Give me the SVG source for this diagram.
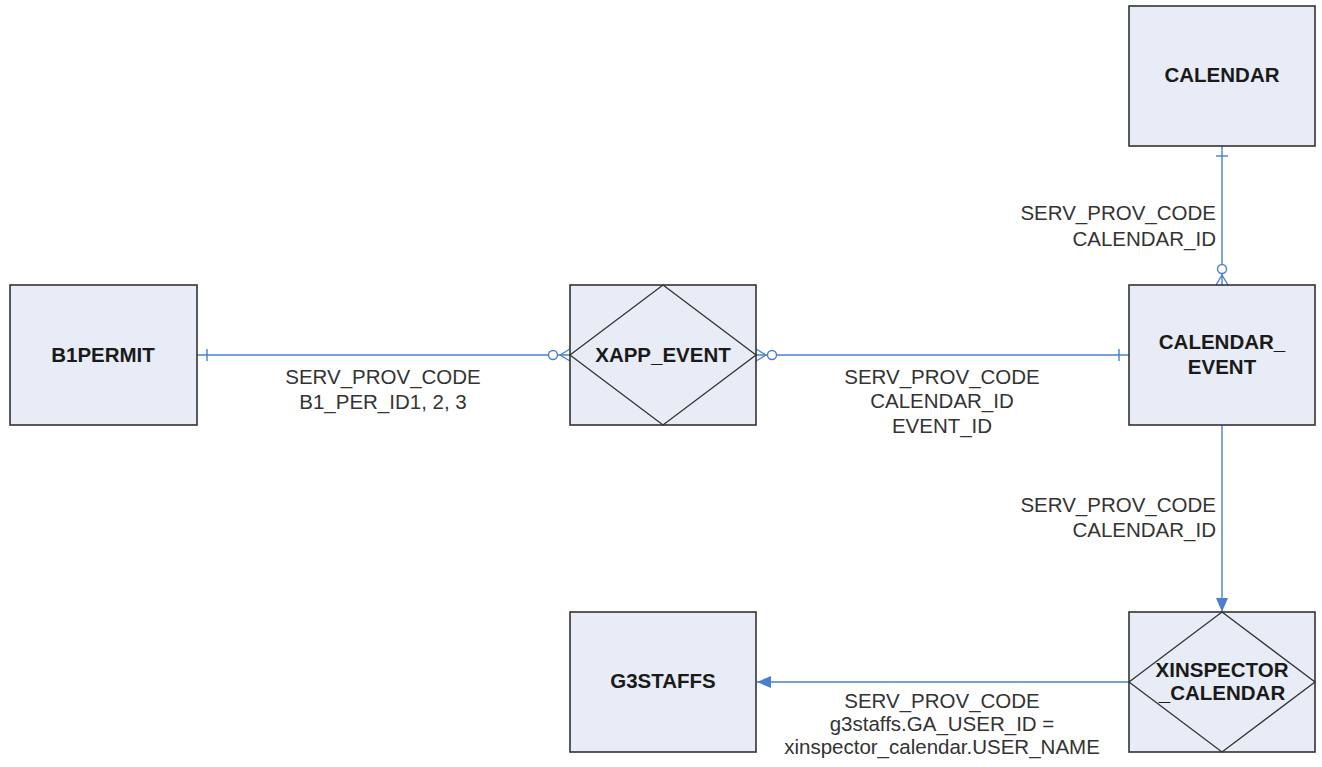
<svg xmlns="http://www.w3.org/2000/svg" width="1322" height="767" viewBox="0 0 1322 767">
  <style>
    .box { fill: #e8ecf6; stroke: #333; stroke-width: 1.6; }
    .dia { fill: none; stroke: #333; stroke-width: 1.3; }
    .name { font-family: "Liberation Sans", Arial, sans-serif; font-weight: bold; font-size: 20.5px; fill: #1a1a1a; text-anchor: middle; }
    .lbl { font-family: "Liberation Sans", Arial, sans-serif; font-size: 20.5px; fill: #333; }
    .ln { fill: none; stroke: #4a7fd0; stroke-width: 1.4; }
    .ring { fill: #fff; stroke: #4a7fd0; stroke-width: 1.4; }
  </style>
  <defs>
    <marker id="arrow" viewBox="0 0 14 12" refX="14" refY="6" markerWidth="14" markerHeight="12" markerUnits="userSpaceOnUse" orient="auto">
      <path d="M0,0 L14,6 L0,12 Z" fill="#4a7fd0"/>
    </marker>
  </defs>
  <rect width="1322" height="767" fill="#fff"/>

  <!-- relationships -->
  <g id="connectors">
    <!-- B1PERMIT 1 : N XAPP_EVENT -->
    <line class="ln" x1="197" y1="355" x2="570" y2="355"/>
    <line class="ln" x1="207" y1="349" x2="207" y2="361"/>
    <path class="ln" d="M560,355 L570,349 M560,355 L570,361"/>
    <circle class="ring" cx="553" cy="355" r="4.5"/>

    <!-- XAPP_EVENT N : 1 CALENDAR_EVENT -->
    <line class="ln" x1="756" y1="355" x2="1129" y2="355"/>
    <path class="ln" d="M766,355 L756,349 M766,355 L756,361"/>
    <circle class="ring" cx="772" cy="355" r="4.5"/>
    <line class="ln" x1="1119" y1="349" x2="1119" y2="361"/>

    <!-- CALENDAR 1 : N CALENDAR_EVENT -->
    <line class="ln" x1="1222" y1="146" x2="1222" y2="285"/>
    <line class="ln" x1="1216" y1="156" x2="1228" y2="156"/>
    <path class="ln" d="M1222,275 L1216,285 M1222,275 L1228,285"/>
    <circle class="ring" cx="1222" cy="269" r="4.5"/>

    <!-- CALENDAR_EVENT to XINSPECTOR_CALENDAR -->
    <line class="ln" x1="1222" y1="425" x2="1222" y2="612" marker-end="url(#arrow)"/>

    <!-- XINSPECTOR_CALENDAR to G3STAFFS -->
    <line class="ln" x1="1129" y1="682" x2="757" y2="682" marker-end="url(#arrow)"/>
  </g>

  <!-- relationship labels -->
  <g id="labels">
    <text class="lbl" x="383" y="384" text-anchor="middle">SERV_PROV_CODE</text>
    <text class="lbl" x="383" y="409" text-anchor="middle">B1_PER_ID1, 2, 3</text>

    <text class="lbl" x="942" y="384" text-anchor="middle">SERV_PROV_CODE</text>
    <text class="lbl" x="942" y="408" text-anchor="middle">CALENDAR_ID</text>
    <text class="lbl" x="942" y="433" text-anchor="middle">EVENT_ID</text>

    <text class="lbl" x="1216" y="220" text-anchor="end">SERV_PROV_CODE</text>
    <text class="lbl" x="1216" y="246" text-anchor="end">CALENDAR_ID</text>

    <text class="lbl" x="1216" y="512" text-anchor="end">SERV_PROV_CODE</text>
    <text class="lbl" x="1216" y="537" text-anchor="end">CALENDAR_ID</text>

    <text class="lbl" x="942" y="708" text-anchor="middle">SERV_PROV_CODE</text>
    <text class="lbl" x="942" y="731" text-anchor="middle">g3staffs.GA_USER_ID =</text>
    <text class="lbl" x="942" y="754" text-anchor="middle">xinspector_calendar.USER_NAME</text>
  </g>

  <!-- entities -->
  <g id="b1permit">
    <rect class="box" x="10" y="285" width="187" height="140"/>
    <text class="name" x="103" y="362">B1PERMIT</text>
  </g>

  <g id="xapp_event">
    <rect class="box" x="570" y="285" width="186" height="140"/>
    <path class="dia" d="M663,285 L756,355 L663,425 L570,355 Z"/>
    <text class="name" x="663" y="362">XAPP_EVENT</text>
  </g>

  <g id="calendar">
    <rect class="box" x="1129" y="6" width="186" height="140"/>
    <text class="name" x="1222" y="82">CALENDAR</text>
  </g>

  <g id="calendar_event">
    <rect class="box" x="1129" y="285" width="186" height="140"/>
    <text class="name" x="1222" y="349">CALENDAR_</text>
    <text class="name" x="1222" y="374">EVENT</text>
  </g>

  <g id="xinspector_calendar">
    <rect class="box" x="1129" y="612" width="186" height="140"/>
    <path class="dia" d="M1222,612 L1315,682 L1222,752 L1129,682 Z"/>
    <text class="name" x="1222" y="677">XINSPECTOR</text>
    <text class="name" x="1222" y="700">_CALENDAR</text>
  </g>

  <g id="g3staffs">
    <rect class="box" x="570" y="612" width="186" height="140"/>
    <text class="name" x="663" y="688">G3STAFFS</text>
  </g>
</svg>
